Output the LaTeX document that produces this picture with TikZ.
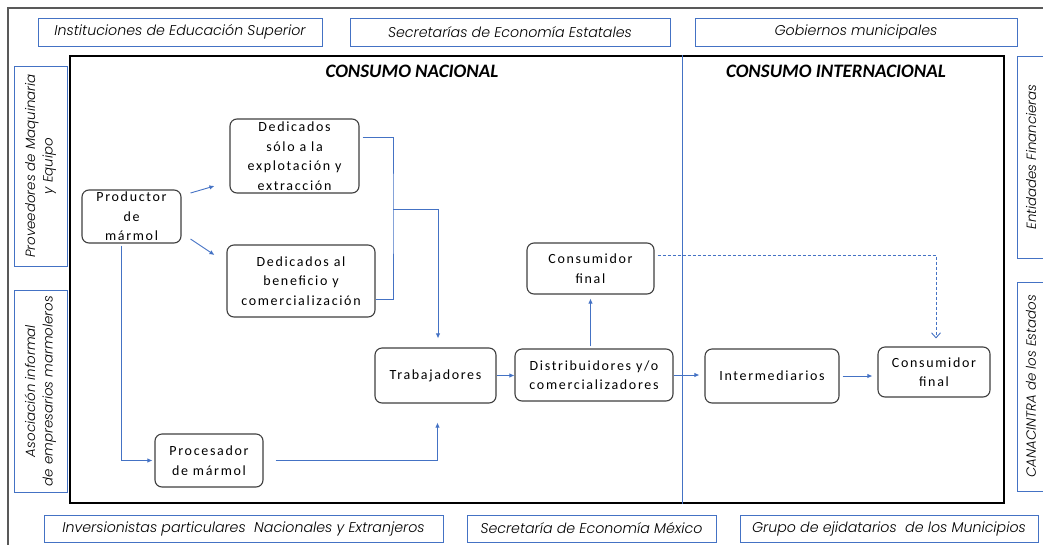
\documentclass[tikz,border=0pt]{standalone}
\usepackage{fontspec}
\setmainfont{Carlito}
\newfontfamily\lblfont{Poppins}[UprightFont=* Light, ItalicFont=* Light Italic]
\newfontfamily\boxfont[LetterSpace=12]{Carlito}
\usetikzlibrary{positioning,arrows.meta,calc}
\definecolor{lnblue}{HTML}{4472C4}
\definecolor{boxline}{HTML}{3F3F3F}
\definecolor{frameline}{HTML}{595959}
\newcommand{\bxf}{\boxfont\fontsize{14}{19.5}\selectfont}
\newcommand{\lbf}{\lblfont\itshape\fontsize{14.2}{17}\selectfont}
\newcommand{\sdf}{\lblfont\itshape\fontsize{13.4}{17.5}\selectfont}
\newcommand{\hdf}{\fontsize{19}{22}\selectfont\bfseries\itshape}

\begin{document}
\begin{tikzpicture}[
  x=1pt, y=-1pt,
  bx/.style={draw=boxline, line width=1.1pt, rounded corners=7pt, fill=white, align=center,
             inner sep=2pt, font=\bxf},
  lbl/.style={draw=lnblue, line width=0.9pt, fill=white, align=center, inner sep=0pt, font=\lbf},
  sd/.style={lbl, rotate=90, font=\sdf},
  ln/.style={draw=lnblue, line width=0.9pt},
  arr/.style={ln, -{Latex[length=5pt,width=4.5pt]}},
  dsh/.style={ln, dash pattern=on 3pt off 2pt, -{Straight Barb[length=5pt,width=9pt]}},
]
\useasboundingbox (0,0) rectangle (1043,544);
% outer frame, cut by the page on the right and bottom
\draw[draw=frameline, line width=1.3pt] (8,560) -- (8,8) -- (1060,8);

% ---------------- actors round the chain ----------------
\node[lbl, minimum width=284pt, minimum height=28pt] (ies) at (180,32) {Instituciones de Educación Superior};
\node[lbl, minimum width=320pt, minimum height=28pt] (see) at (510,32) {Secretarías de Economía Estatales};
\node[lbl, minimum width=322pt, minimum height=28pt] (gob) at (856,32) {Gobiernos municipales};
\node[lbl, minimum width=399pt, minimum height=27pt] (inv) at (243.5,528.5) {Inversionistas particulares\ \ Nacionales y Extranjeros};
\node[lbl, minimum width=249pt, minimum height=27pt] (sem) at (591.5,528.5) {Secretaría de Economía México};
\node[lbl, minimum width=298pt, minimum height=27pt] (eji) at (889,528.5) {Grupo de ejidatarios\ \ de los Municipios};
\node[sd, minimum width=200pt, minimum height=53pt] (prov) at (40.5,166) {Proveedores de Maquinaria\\y Equipo};
\node[sd, minimum width=202pt, minimum height=53pt] (asoc) at (40.5,391) {Asociación informal\\de empresarios marmoleros};
\node[sd, minimum width=202pt, minimum height=28pt] (fin) at (1031,157) {Entidades Financieras};
\node[sd, minimum width=209pt, minimum height=28pt] (cana) at (1031,386.5) {CANACINTRA de los Estados};

% ---------------- markets ----------------
\node[draw=black, line width=1.2pt, minimum width=934pt, minimum height=447pt] (frame) at (537,279.5) {};
\coordinate (dv) at (682,0);
\draw[ln] (dv |- frame.north) -- (dv |- frame.south);
\node[font=\hdf] (nac) at (412,71) {CONSUMO NACIONAL};
\node[font=\hdf] (int) at (836,71) {CONSUMO INTERNACIONAL};

% ---------------- chain ----------------
\node[bx, minimum width=99pt, minimum height=53pt] (prod) at (131.5,216.5) {Productor\\de\\mármol};
\node[bx, minimum width=129pt, minimum height=74pt] (ded1) at (294.5,156) {Dedicados\\sólo a la\\explotación y\\extracción};
\node[bx, minimum width=148pt, minimum height=72pt] (ded2) at (301,281) {Dedicados al\\beneficio y\\comercialización};
\node[bx, minimum width=108pt, minimum height=53pt] (proc) at (209,460.5) {Procesador\\de mármol};
\node[bx, minimum width=121pt, minimum height=55pt] (trab) at (435.5,375.5) {Trabajadores};
\node[bx, minimum width=158pt, minimum height=52pt] (dist) at (594,375) {Distribuidores y/o\\comercializadores};
\node[bx, minimum width=127pt, minimum height=51pt] (cons) at (590.5,268.5) {Consumidor\\final};
\node[bx, minimum width=134pt, minimum height=54pt] (inter) at (772,376) {Intermediarios};
\node[bx, minimum width=112pt, minimum height=50pt] (consx) at (934,372) {Consumidor\\final};

\draw[arr] ($(prod.east)+(9,-23.5)$) -- ($(ded1.west)+(-15,30)$);
\draw[arr] ($(prod.east)+(9,22.5)$) -- ($(ded2.west)+(-12,-26)$);
\draw[arr] ($(prod.south)+(-10.5,2)$) |- ($(proc.west)+(-2,0)$);
\draw[arr] ($(proc.east)+(12,0)$) -| ($(trab.south)+(2,19)$);
\coordinate (mrg) at (393,209);
\draw[ln] ($(ded1.east)+(3,-19)$) -| (mrg) |- ($(ded2.east)+(0,18)$);
\draw[arr] (mrg) -| ($(trab.north)+(2.5,-9)$);
\draw[arr] (trab.east) -- (trab.east -| dist.west);
\draw[arr, shorten <=2pt, shorten >=4pt] (cons.south |- dist.north) -- (cons.south);
\draw[arr, shorten >=5pt] (dist.east) -- (dist.east -| inter.west);
\draw[arr, shorten <=3pt, shorten >=5pt] (inter.east) -- (inter.east -| consx.west);
\draw[dsh] ($(cons.east)+(3,-13.5)$) -| ($(consx.north)+(2,-8)$);
\end{tikzpicture}
\end{document}
